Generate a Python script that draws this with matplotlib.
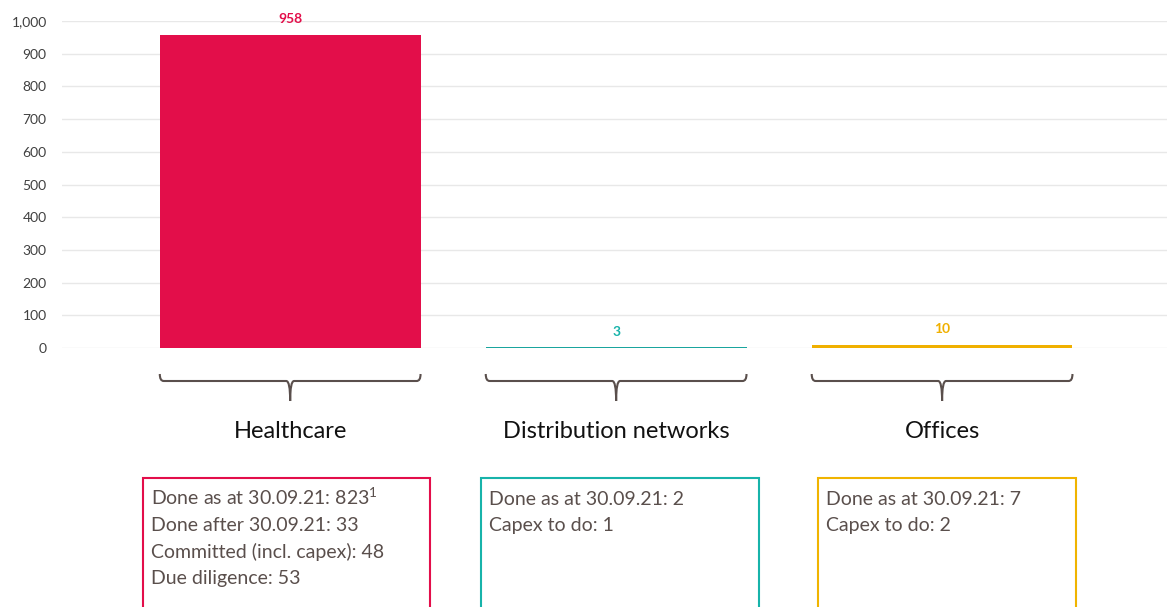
import matplotlib.pyplot as plt
import matplotlib.transforms as mtransforms
from matplotlib.patches import Rectangle, PathPatch
from matplotlib.path import Path

plt.rcParams["font.family"] = ["Lato", "DejaVu Sans"]
plt.rcParams["mathtext.fontset"] = "custom"
plt.rcParams["mathtext.rm"] = "Lato"

categories = ["Healthcare", "Distribution networks", "Offices"]
values = [958, 3, 10]
colors = ["#e30e4a", "#1aa59e", "#f0b000"]
label_colors = ["#e30e4a", "#17b3aa", "#f0b000"]
box_colors = ["#e30e4a", "#17b3aa", "#f0b400"]
details = [
    ["Done as at 30.09.21: 823$^{\\mathrm{1}}$", "Done after 30.09.21: 33",
     "Committed (incl. capex): 48", "Due diligence: 53"],
    ["Done as at 30.09.21: 2", "Capex to do: 1"],
    ["Done as at 30.09.21: 7", "Capex to do: 2"],
]
yticks = [0, 100, 200, 300, 400, 500, 600, 700, 800, 900, 1000]

W, H = 1167, 607
fig = plt.figure(figsize=(W / 100, H / 100), dpi=100)
ax = fig.add_axes([62 / W, 1 - 348 / H, 1 - 62 / W, 327 / H])

x = list(range(len(categories)))
ax.bar(x, values, width=0.8, color=colors, zorder=3)
ax.set_xlim(-0.70, 2.69)
ax.set_ylim(0, 1000)
ax.set_yticks(yticks)
ax.set_yticklabels([f"{v:,}" for v in yticks], color="#404040", fontsize=10)
ax.set_xticks([])
ax.tick_params(axis="y", length=0, pad=11)
ax.grid(axis="y", color="#e8e8e8", linewidth=1, zorder=0)
for s in ax.spines.values():
    s.set_visible(False)

for xi, v, c in zip(x, values, label_colors):
    ax.annotate(f"{v:,}", (xi, v), xytext=(0, 11), textcoords="offset points",
                ha="center", va="center", color=c, fontsize=10, fontweight="bold")

trans = mtransforms.blended_transform_factory(ax.transData, ax.transAxes)


def ay(py):
    # pixel row -> axes fraction
    return (348 - py) / 327


def dx(px):
    # pixel column -> data x
    return (px - 291) / 326


brace_color = "#5a4f4c"
for xi in x:
    l, r = xi - 0.4, xi + 0.4
    ytop, ymid, ybot = ay(374), ay(381), ay(401)
    e = 0.012
    codes = [Path.MOVETO, Path.CURVE3, Path.CURVE3, Path.LINETO, Path.CURVE3, Path.CURVE3,
             Path.MOVETO, Path.CURVE3, Path.CURVE3, Path.LINETO, Path.CURVE3, Path.CURVE3]
    verts = [(l, ytop), (l, ymid), (l + e, ymid), (xi - e, ymid), (xi, ymid), (xi, ybot),
             (xi, ybot), (xi, ymid), (xi + e, ymid), (r - e, ymid), (r, ymid), (r, ytop)]
    ax.add_patch(PathPatch(Path(verts, codes), transform=trans, fill=False,
                           edgecolor=brace_color, linewidth=1.5, clip_on=False))
    ax.text(xi, ay(432), categories[xi], transform=trans, ha="center", va="center",
            fontsize=17, color="#111111")

box_px = [(144, 431), (482, 760), (819, 1077)]
for (bl, br), c, lines in zip(box_px, box_colors, details):
    ax.add_patch(Rectangle((dx(bl), ay(640)), dx(br) - dx(bl), ay(478) - ay(640),
                           transform=trans, fill=False, edgecolor=c, linewidth=1.5,
                           clip_on=False))
    for i, line in enumerate(lines):
        ax.text(dx(bl + 8), ay(505 + 26.3 * i), line, transform=trans, ha="left",
                va="baseline", fontsize=14, color="#5a4f4c")

fig.savefig("out.png", dpi=100)
